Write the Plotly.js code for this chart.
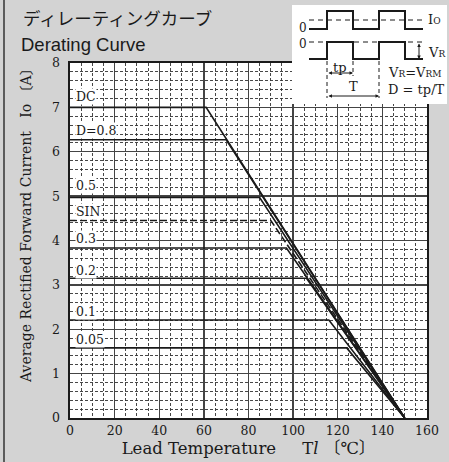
<!DOCTYPE html>
<html>
<head>
<meta charset="utf-8">
<script src="https://cdn.plot.ly/plotly-3.0.1.min.js"></script>
<style>html,body{margin:0;padding:0;background:#d3d3d3;}#chart{width:449px;height:462px;}</style>
</head>
<body>
<div id="chart"></div>
<script>
// ---- Data ----
const curveNames = ['DC', 'D=0.8', '0.5', 'SIN', '0.3', '0.2', '0.1', '0.05'];
const flatLevels = [7.0, 6.27, 4.97, 4.45, 3.83, 3.15, 2.21, 1.58];   // Io [A]
const breakTemps = [61, 70, 85, 90, 97, 106, 116, 124];            // Tl [°C] where derating starts
const zeroTemp = 150;                                             // Tl [°C] where Io reaches 0
const labelLevels = [7.25, 6.49, 5.23, 4.66, 4.05, 3.33, 2.39, 1.77];
const xTickVals = [0, 20, 40, 60, 80, 100, 120, 140, 160];
const yTickVals = [0, 1, 2, 3, 4, 5, 6, 7, 8];

const SERIF = '"DejaVu Serif", "Noto Sans CJK JP", serif';
const SANS = '"Liberation Sans", Arial, "Noto Sans CJK JP", sans-serif';
const INK = '#1a1a1a';

const traces = curveNames.map((name, i) => ({
  type: 'scatter', mode: 'lines', name: name,
  x: [0, breakTemps[i], zeroTemp],
  y: [flatLevels[i], flatLevels[i], 0],
  line: {color: INK, width: 1.6, dash: name === 'SIN' ? '7px,3px' : 'solid'},
  hoverinfo: 'x+y+name'
}));

// curve labels
const annotations = curveNames.map((name, i) => ({
  x: 2.3, y: labelLevels[i], xref: 'x', yref: 'y', text: name,
  showarrow: false, xanchor: 'left', yanchor: 'middle',
  bgcolor: 'white', borderpad: 0,
  font: {family: SERIF, size: 12.5, color: INK}
}));

// ---- pixel helpers for the decorative inset (plot area 70..427 x 63..418) ----
const X = p => (p - 70) / 357;
const Y = p => (418 - p) / 355;
const P = (x, y) => X(x) + ',' + Y(y);

const shapes = [];
// left frame line
shapes.push({type: 'line', xref: 'paper', yref: 'paper', x0: X(4), x1: X(4), y0: Y(0), y1: Y(462),
  line: {color: '#333', width: 1.5}, layer: 'above'});
// inset white box
shapes.push({type: 'rect', xref: 'paper', yref: 'paper', x0: X(292), x1: X(447), y0: Y(104), y1: Y(5),
  fillcolor: 'white', line: {width: 0}, layer: 'above'});
// inset waveforms
const edges = [309, 327, 353, 379, 405, 423];
function wave(low, high) {
  return 'M' + P(edges[0], low) + ' L' + P(edges[1], low) + ' L' + P(edges[1], high) +
         ' L' + P(edges[2], high) + ' L' + P(edges[2], low) + ' L' + P(edges[3], low) +
         ' L' + P(edges[3], high) + ' L' + P(edges[4], high) + ' L' + P(edges[4], low) +
         ' L' + P(edges[5], low);
}
shapes.push({type: 'path', xref: 'paper', yref: 'paper', path: wave(29, 11), line: {color: INK, width: 2}, layer: 'above'});
shapes.push({type: 'path', xref: 'paper', yref: 'paper', path: wave(59, 42), line: {color: INK, width: 2}, layer: 'above'});
// dashed reference levels
shapes.push({type: 'line', xref: 'paper', yref: 'paper', x0: X(309), x1: X(424), y0: Y(20), y1: Y(20), line: {color: INK, width: 1, dash: '5px,4px'}, layer: 'above'});
shapes.push({type: 'line', xref: 'paper', yref: 'paper', x0: X(309), x1: X(424), y0: Y(42), y1: Y(42), line: {color: INK, width: 1, dash: '5px,4px'}, layer: 'above'});
// dashed vertical markers
shapes.push({type: 'line', xref: 'paper', yref: 'paper', x0: X(327), x1: X(327), y0: Y(61), y1: Y(98), line: {color: INK, width: 1, dash: '4px,3px'}, layer: 'above'});
shapes.push({type: 'line', xref: 'paper', yref: 'paper', x0: X(353), x1: X(353), y0: Y(61), y1: Y(76), line: {color: INK, width: 1, dash: '4px,3px'}, layer: 'above'});
shapes.push({type: 'line', xref: 'paper', yref: 'paper', x0: X(379), x1: X(379), y0: Y(61), y1: Y(98), line: {color: INK, width: 1, dash: '4px,3px'}, layer: 'above'});

function arrow(hx, hy, ax, ay) {
  return {x: X(hx), y: Y(hy), xref: 'paper', yref: 'paper', axref: 'pixel', ayref: 'pixel',
    ax: ax, ay: ay, text: '', showarrow: true, arrowside: 'end+start', arrowhead: 2,
    arrowsize: 0.7, arrowwidth: 1, arrowcolor: INK, standoff: 0, startstandoff: 0};
}
annotations.push(arrow(419, 59, 0, -17));
annotations.push(arrow(353, 73, -26, 0));
annotations.push(arrow(379, 96, -52, 0));

function txt(px, py, text, anchor, size, yanchor) {
  return {x: X(px), y: Y(py), xref: 'paper', yref: 'paper', text: text, showarrow: false, borderpad: 0,
    xanchor: anchor || 'center', yanchor: yanchor || 'middle', font: {family: SERIF, size: size || 13, color: INK}};
}
const sm = s => '<span style="font-size:9px">' + s + '</span>';
annotations.push(txt(303, 36, '0', 'center', 12, 'bottom'));
annotations.push(txt(303, 36, '0', 'center', 12, 'top'));
annotations.push(txt(427, 20, 'I' + sm('O'), 'left', 13));
annotations.push(txt(427, 52, 'V' + sm('R'), 'left', 13));
annotations.push(txt(340, 67, 'tp', 'center', 13));
annotations.push(txt(353, 86, 'T', 'center', 13));
annotations.push(txt(387, 73, 'V' + sm('R') + '=V' + sm('RM'), 'left', 13));
annotations.push(txt(387, 89, 'D = tp/T', 'left', 13));

// Japanese first title line
annotations.push({x: X(21), y: Y(18), xref: 'paper', yref: 'paper', text: 'ディレーティングカーブ',
  showarrow: false, xanchor: 'left', yanchor: 'middle', font: {family: '"Noto Sans CJK JP", sans-serif', size: 17.5, color: INK}});

// y-axis title placed as an annotation (reference centers it above the plot middle)
const nb = '\u00a0';
annotations.push({x: X(26), y: Y(222), xref: 'paper', yref: 'paper', textangle: -90,
  text: 'Average Rectified Forward Current' + nb + nb + nb + 'Io 〔A〕', showarrow: false,
  xanchor: 'center', yanchor: 'middle', font: {family: SERIF, size: 14, color: INK}});

const layout = {
  width: 449, height: 462,
  margin: {l: 70, r: 22, t: 63, b: 44, pad: 0},
  paper_bgcolor: '#d3d3d3', plot_bgcolor: 'white',
  showlegend: false,
  title: {text: 'Derating Curve', xref: 'container', yref: 'container', x: 21 / 449, xanchor: 'left',
    y: 1 - 45 / 462, yanchor: 'middle',
    font: {family: SANS, size: 18.5, color: INK}},
  xaxis: {
    range: [0, 160], tickvals: xTickVals, ticktext: xTickVals.map(String),
    showgrid: true, gridcolor: '#444', gridwidth: 1.4,
    minor: {dtick: 5, showgrid: true, gridcolor: '#333', gridwidth: 0.9, griddash: '3px,2px'},
    showline: true, linecolor: INK, linewidth: 1.6, mirror: true, zeroline: false,
    ticks: '', ticklabelstandoff: 0,
    tickfont: {family: SERIF, size: 12.5, color: INK},
    title: {text: 'Lead Temperature' + nb.repeat(5) + 'T<i>l</i> 〔℃〕', standoff: 6,
      font: {family: SERIF, size: 16.5, color: INK}}
  },
  yaxis: {
    range: [0, 8], tickvals: yTickVals, ticktext: yTickVals.map(String),
    showgrid: true, gridcolor: '#444', gridwidth: 1.4,
    minor: {dtick: 0.2, showgrid: true, gridcolor: '#333', gridwidth: 0.9, griddash: '3px,2px'},
    showline: true, linecolor: INK, linewidth: 1.6, mirror: true, zeroline: false,
    ticks: '', ticklabelstandoff: 6,
    tickfont: {family: SERIF, size: 12.5, color: INK}
  },
  shapes: shapes,
  annotations: annotations
};

Plotly.newPlot('chart', traces, layout, {displayModeBar: false, staticPlot: true});
</script>
</body>
</html>
